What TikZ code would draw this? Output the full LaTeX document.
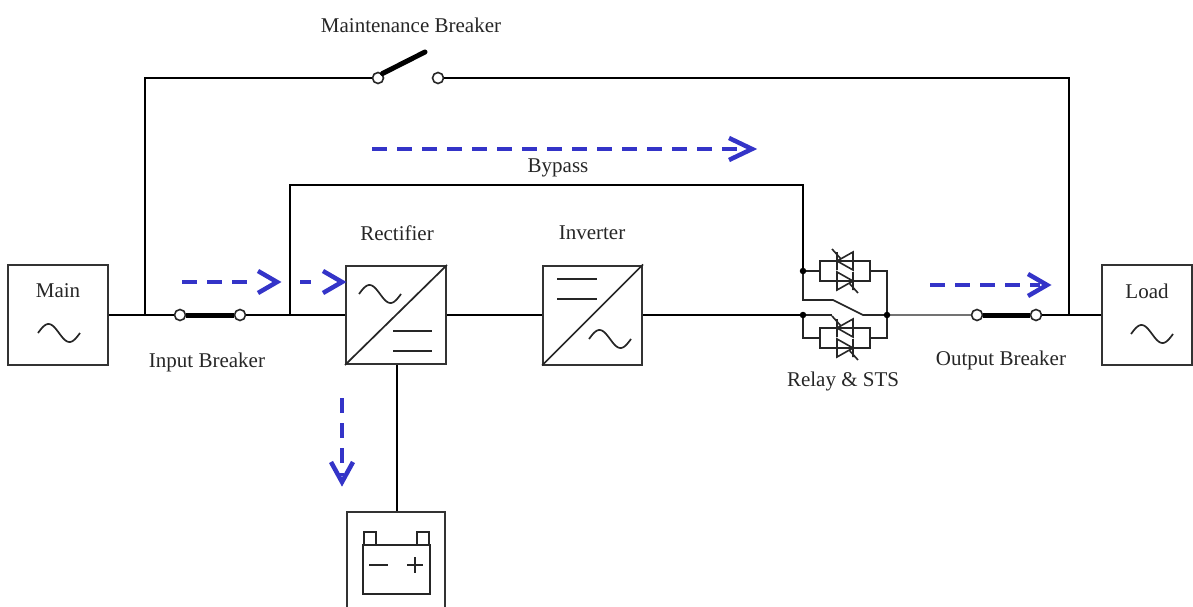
\documentclass[tikz,border=0pt]{standalone}
\usepackage{fontspec}
\setmainfont{Liberation Serif}
\definecolor{flowblue}{RGB}{52,52,200}
\begin{document}
\begin{tikzpicture}[x=1pt,y=-1pt,
  lbl/.style={font=\fontsize{21}{24}\selectfont, text=black!85, inner sep=0pt},
  wire/.style={line width=2.8pt, black},
  thin/.style={line width=1.7pt, black!85},
  grayw/.style={line width=1.8pt, black!55},
  frame/.style={draw=black!80, line width=2pt, inner sep=0pt, fill=white},
  brk/.style={circle, draw=black!85, line width=1.6pt, fill=white, minimum size=11pt, inner sep=0pt},
  dotn/.style={circle, fill=black, minimum size=6.5pt, inner sep=0pt},
  flow/.style={draw=flowblue, line width=4.5pt, dash pattern=on 15pt off 10pt},
  flowhead/.style={draw=flowblue, line width=4.5pt, line join=miter},
  sinew/.pic={\draw[line width=1.7pt, black!85] plot[domain=0:360, samples=40, smooth] ({-21+42*\x/360}, {-9*sin(\x)});},
  thyr/.pic={\draw[line width=1.6pt, black!85] (0,-9) -- (0,9) -- (16,0) -- cycle (16,-9) -- (16,9) (12,2) -- (21,12);}
]
\useasboundingbox (0,0) rectangle (1193,607);

% ---- boxes ----
\node[frame, minimum width=100pt, minimum height=100pt] (main) at (58,315) {};
\node[frame, minimum width=100pt, minimum height=98pt] (rect) at (396,315) {};
\node[frame, minimum width=99pt, minimum height=99pt] (inv) at (592.5,315) {};
\node[frame, minimum width=90pt, minimum height=100pt] (load) at (1147,315) {};
\node[frame, minimum width=98pt, minimum height=110pt] (batt) at (396,567) {};

% rectifier symbol
\draw[thin] (rect.south west) -- (rect.north east);
\pic at (380,294) {sinew};
\draw[line width=1.7pt, black!85] (393,331) -- (432,331) (393,351) -- (432,351);
% inverter symbol
\draw[thin] (inv.south west) -- (inv.north east);
\pic at (610,339) {sinew};
\draw[line width=1.7pt, black!85] (557,279) -- (597,279) (557,299) -- (597,299);
% main / load symbols
\pic at (59,333) {sinew};
\pic at (1152,334) {sinew};
% battery symbol
\draw[line width=1.7pt, black!85] (363,545) rectangle (430,594)
  (364,545) -- (364,532) -- (376,532) -- (376,545)
  (417,545) -- (417,532) -- (429,532) -- (429,545)
  (369,565) -- (388,565) (407,565) -- (423,565) (415,557) -- (415,573);

% ---- breakers ----
\node[brk] (in1) at (180,315) {};
\node[brk] (in2) at (240,315) {};
\node[brk] (out1) at (977,315) {};
\node[brk] (out2) at (1036,315) {};
\node[brk] (m1) at (378,78) {};
\node[brk] (m2) at (438,78) {};

% ---- junctions ----
\coordinate (mj) at (145,315);
\coordinate (bj) at (290,315);
\coordinate (oj) at (1069,315);
\coordinate (mtl) at (145,78);
\coordinate (mtr) at (1069,78);
\coordinate (bcorner) at (803,185);
\coordinate (du) at (803,271);
\coordinate (dl) at (803,315);
\coordinate (dr) at (887,315);
\coordinate (lever) at (425,52);

% ---- wires ----
\draw[wire] (main.east) -- (in1.west);
\draw[line width=5pt, black] (in1.east) -- (in2.west);
\draw[wire] (in2.east) -- (rect.west);
\draw[wire] (rect.east) -- (inv.west);
\draw[wire] (inv.east) -- (dl);
\draw[grayw] (dr) -- (out1.west);
\draw[line width=5pt, black] (out1.east) -- (out2.west);
\draw[wire] (out2.east) -- (load.west);
\draw[wire] (mj) -- (mtl) -- (m1.west);
\draw[wire] (m2.east) -- (mtr) -- (oj);
\draw[line width=5pt, black, line cap=round] (m1.north east) -- (lever);
\draw[wire] (bj) |- (bcorner) -- (du);
\draw[wire] (rect.south -| 397,0) -- (batt.north -| 397,0);

% ---- STS ----
\draw[thin] (du) -- (820,271) (820,261) rectangle (870,281) (870,271) -- (887,271) -- (dr);
\draw[thin] (du) -- (803,300) -- (833,300) -- (863,315) -- (dr);
\draw[thin] (dl) -- (832,315);
\draw[thin] (dl) -- (803,338) -- (820,338) (820,328) rectangle (870,348) (870,338) -- (887,338) -- (dr);
\pic[rotate=180] at (853,261) {thyr};
\pic at (837,281) {thyr};
\pic[rotate=180] at (853,328) {thyr};
\pic at (837,348) {thyr};
\node[dotn] (dotu) at (du) {};
\node[dotn] (dotl) at (dl) {};
\node[dotn] (dotr) at (dr) {};

% ---- labels ----
\node[lbl] (tmaint) at (411,25) {Maintenance Breaker};
\node[lbl] (tmain) at (58,291) {Main};
\node[lbl] (tinput) at (207,362) {Input Breaker};
\node[lbl] (trect) at (397,233) {Rectifier};
\node[lbl] (tinv) at (592,233) {Inverter};
\node[lbl] (tbyp) at (558,168) {Bypass};
\node[lbl] (tsts) at (843,381) {Relay \& STS};
\node[lbl] (tout) at (1001,360) {Output Breaker};
\node[lbl] (tload) at (1147,291) {Load};

% ---- flow arrows ----
\coordinate (a1s) at (182,282); \coordinate (a1t) at (277,282);
\draw[flow] (a1s) -- (250,282);
\draw[flowhead] (258,271) -- (a1t) -- (258,293);
\coordinate (a2s) at (300,282); \coordinate (a2t) at (342,282);
\draw[flowhead] (a2s) -- (311,282);
\draw[flowhead] (323,271) -- (a2t) -- (323,293);
\coordinate (a3s) at (372,149); \coordinate (a3t) at (752,149);
\draw[flow] (a3s) -- (745,149);
\draw[flowhead] (729,138) -- (a3t) -- (729,160);
\coordinate (a4s) at (930,285); \coordinate (a4t) at (1047,285);
\draw[flow] (a4s) -- (1040,285);
\draw[flowhead] (1028,274) -- (a4t) -- (1028,296);
\coordinate (a5s) at (342,398); \coordinate (a5t) at (342,482);
\draw[flow] (a5s) -- (342,476);
\draw[flowhead] (331,462) -- (a5t) -- (353,462);
\end{tikzpicture}
\end{document}
